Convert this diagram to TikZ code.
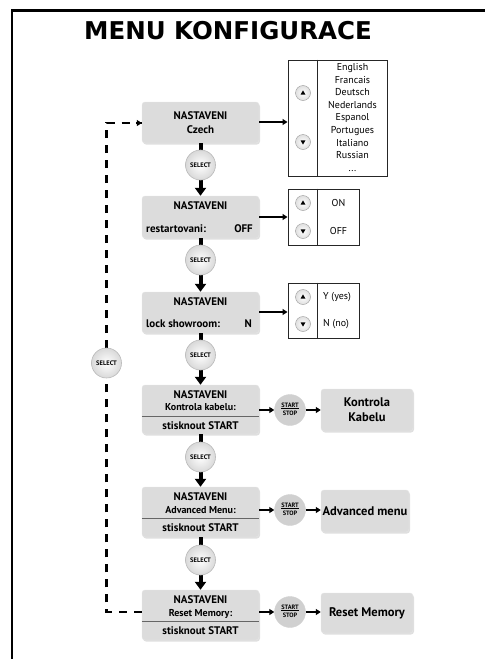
\documentclass[tikz,border=0pt]{standalone}
\usepackage{fontspec}
\setmainfont{PT Sans}
\newfontfamily\titlefont{DejaVu Sans}
\usetikzlibrary{shadows,arrows.meta,calc}
\definecolor{boxgray}{HTML}{DCDCDC}
\definecolor{btngray}{HTML}{D0D0D0}
\tikzset{
  menubox/.style={rectangle, rounded corners=3pt, fill=boxgray, draw=gray!20,
    drop shadow={opacity=0.25, shadow xshift=1pt, shadow yshift=-1.5pt},
    minimum width=117pt, inner sep=0pt},
  selbtn/.style={circle, minimum size=30pt, inner sep=0pt, draw=gray!55, line width=0.6pt,
    inner color=white, outer color=gray!30, font=\bfseries\fontsize{6.5}{7}\selectfont},
  ssbtn/.style={circle, minimum size=31pt, inner sep=0pt, fill=btngray, draw=gray!35,
    font=\bfseries\fontsize{6.3}{7}\selectfont},
  updn/.style={circle, minimum size=15pt, inner sep=0pt, draw=gray!70, line width=0.5pt,
    inner color=white, outer color=gray!25},
  optbox/.style={rectangle, draw=black!85, line width=1pt, inner sep=0pt},
  thickline/.style={line width=4pt},
  thickarrow/.style={line width=4pt, -{Triangle[width=11pt,length=8pt]}},
  harrow/.style={line width=1.8pt, -{Triangle[width=6pt,length=5pt]}},
  dashline/.style={line width=2.2pt, dash pattern=on 8pt off 7pt},
  boldtxt/.style={font=\bfseries\fontsize{11}{13}\selectfont, inner sep=0pt},
  subtxt/.style={font=\bfseries\fontsize{10}{12}\selectfont, inner sep=0pt},
  opttxt/.style={font=\fontsize{10}{12}\selectfont, inner sep=0pt},
  restxt/.style={font=\bfseries\fontsize{12.5}{15}\selectfont, align=center, inner sep=0pt},
}
\newcommand{\upbtn}[2]{%
  \node[updn] (#1) at #2 {};
  \fill ($(#1)+(-2.5,1.7)$) -- ($(#1)+(2.5,1.7)$) -- ($(#1)+(0,-2.6)$) -- cycle;}
\newcommand{\dnbtn}[2]{%
  \node[updn] (#1) at #2 {};
  \fill ($(#1)+(-2.5,-1.7)$) -- ($(#1)+(2.5,-1.7)$) -- ($(#1)+(0,2.6)$) -- cycle;}
\newcommand{\ssfrac}{\begin{tabular}{@{}c@{}}START\\[-1.5pt]\hline\rule{0pt}{6.5pt}STOP\end{tabular}}
\begin{document}
\begin{tikzpicture}[x=1pt,y=-1pt]
\useasboundingbox (0,0) rectangle (485,659);
% frame
\draw[line width=3pt] (12,10) -- (485,10);
\draw[line width=2.5pt] (12,9) -- (12,659);
% title
\node[font=\titlefont\bfseries\fontsize{24.5}{28}\selectfont, inner sep=0pt] (title) at (228,31) {MENU KONFIGURACE};

% ---------- main boxes ----------
\node[menubox, minimum height=41pt] (b1) at (200.5,122.5) {};
\node[boldtxt, align=center, font=\bfseries\fontsize{11}{14}\selectfont] (b1t) at (b1) {NASTAVENI\\Czech};

\node[menubox, minimum height=42pt] (b2) at (200.5,217) {};
\node[boldtxt] (b2t) at (200.5,206) {NASTAVENI};
\node[boldtxt, anchor=west] (b2l) at (146,229) {restartovani:};
\node[boldtxt, anchor=east] (b2r) at (253,229) {OFF};

\node[menubox, minimum height=41pt] (b3) at (200.5,312.5) {};
\node[boldtxt] (b3t) at (200.5,302) {NASTAVENI};
\node[boldtxt, anchor=west] (b3l) at (146,324) {lock showroom:};
\node[boldtxt, anchor=east] (b3r) at (252,324) {N};

\node[menubox, minimum height=49pt] (b4) at (200.5,409.5) {};
\node[boldtxt] (b4t) at (200.5,394.5) {NASTAVENI};
\node[subtxt] (b4s) at (200.5,407.5) {Kontrola kabelu:};
\draw[line width=1pt, gray!80!black] (b4.west |- 0,416) -- (b4.east |- 0,416);
\node[boldtxt] (b4b) at (200.5,425.5) {stisknout START};

\node[menubox, minimum height=50pt] (b5) at (200.5,512) {};
\node[boldtxt] (b5t) at (200.5,497) {NASTAVENI};
\node[subtxt] (b5s) at (200.5,510.5) {Advanced Menu:};
\draw[line width=1pt, gray!80!black] (b5.west |- 0,518) -- (b5.east |- 0,518);
\node[boldtxt] (b5b) at (200.5,528) {stisknout START};

\node[menubox, minimum height=50pt] (b6) at (200.5,615) {};
\node[boldtxt] (b6t) at (200.5,600) {NASTAVENI};
\node[subtxt] (b6s) at (200.5,613.5) {Reset Memory:};
\draw[line width=1pt, gray!80!black] (b6.west |- 0,621) -- (b6.east |- 0,621);
\node[boldtxt] (b6b) at (200.5,631) {stisknout START};

% ---------- select buttons ----------
\coordinate (s1) at (200.5,165);
\coordinate (s2) at (200.5,260);
\coordinate (s3) at (200.5,355);
\coordinate (s4) at (200.5,457);
\coordinate (s5) at (200.5,560);

\draw[thickline] (b1) -- (s1);
\draw[thickarrow] (s1) -- (b2);
\draw[thickline] (b2) -- (s2);
\draw[thickarrow] (s2) -- (b3);
\draw[thickline] (b3) -- (s3);
\draw[thickarrow] (s3) -- (b4);
\draw[thickline] (b4) -- (s4);
\draw[thickarrow] (s4) -- (b5);
\draw[thickline] (b5) -- (s5);
\draw[thickarrow] (s5) -- (b6);
\node[selbtn] (sel1) at (s1) {SELECT};
\node[selbtn] (sel2) at (s2) {SELECT};
\node[selbtn] (sel3) at (s3) {SELECT};
\node[selbtn] (sel4) at (s4) {SELECT};
\node[selbtn] (sel5) at (s5) {SELECT};

% ---------- option boxes ----------
\node[optbox, minimum width=99pt, minimum height=116pt] (lang) at (337.5,118) {};
\draw[line width=1pt, black!85] ($(lang.north west)+(30,0)$) -- ($(lang.south west)+(30,0)$);
\upbtn{lu}{(303,93)}
\dnbtn{ld}{(303,142)}
\node[opttxt, align=center, font=\fontsize{10}{12.6}\selectfont] (langt) at (352.5,117.5)
  {English\\Francais\\Deutsch\\Nederlands\\Espanol\\Portugues\\Italiano\\Russian\\...};
\coordinate (a1) at (0,122);
\draw[harrow] (b1.east |- a1) -- (lang.west |- a1);

\node[optbox, minimum width=71pt, minimum height=56pt] (onoff) at (323.5,217) {};
\draw[line width=1pt, black!85] ($(onoff.north west)+(30,0)$) -- ($(onoff.south west)+(30,0)$);
\upbtn{ou}{(303,203)}
\dnbtn{od}{(303,231)}
\node[opttxt] (ont) at (338.5,203) {ON};
\node[opttxt] (offt) at (338.5,231) {OFF};
\draw[harrow] (b2) -- (onoff.west |- b2);

\node[optbox, minimum width=71pt, minimum height=55pt] (yn) at (323.5,310.5) {};
\draw[line width=1pt, black!85] ($(yn.north west)+(30,0)$) -- ($(yn.south west)+(30,0)$);
\upbtn{yu}{(303,297)}
\dnbtn{yd}{(303,324)}
\node[opttxt, anchor=west] (yt) at (323,297) {Y (yes)};
\node[opttxt, anchor=west] (nt) at (323,324) {N (no)};
\coordinate (a3) at (0,312);
\draw[harrow] (b3.east |- a3) -- (yn.west |- a3);

% ---------- start/stop and results ----------
\node[ssbtn] (ss4) at (290,410) {\ssfrac};
\node[ssbtn] (ss5) at (290,510) {\ssfrac};
\node[ssbtn] (ss6) at (290,612) {\ssfrac};

\node[menubox, minimum width=92pt, minimum height=42pt] (r4) at (367,410) {};
\node[restxt] (r4t) at (r4) {Kontrola\\Kabelu};
\node[menubox, minimum width=88pt, minimum height=42pt] (r5) at (365,511) {};
\node[restxt] (r5t) at (r5) {Advanced menu};
\node[menubox, minimum width=92pt, minimum height=40pt] (r6) at (367,613) {};
\node[restxt] (r6t) at (r6) {Reset Memory};

\draw[harrow] (b4.east |- ss4) -- (ss4);
\draw[harrow] (ss4) -- (r4.west |- ss4);
\draw[harrow] (b5.east |- ss5) -- (ss5);
\draw[harrow] (ss5) -- (r5.west |- ss5);
\draw[harrow] (b6.east |- ss6) -- (ss6);
\draw[harrow] (ss6) -- (r6.west |- ss6);

% ---------- dashed return loop ----------
\coordinate (sl) at (106.5,363);
\coordinate (lb) at (106.5,612);
\coordinate (lt) at (106.5,123);
\draw[dashline] (b6.west |- ss6) -- (lb) -- (sl);
\draw[dashline] (sl) -- (lt) -- (b1.west |- lt);
\draw[line width=2pt, -{Triangle[width=6pt,length=5pt]}] ($(b1.west |- lt)+(-6,0)$) -- (b1.west |- lt);
\node[selbtn] (sell) at (sl) {SELECT};
\end{tikzpicture}
\end{document}
